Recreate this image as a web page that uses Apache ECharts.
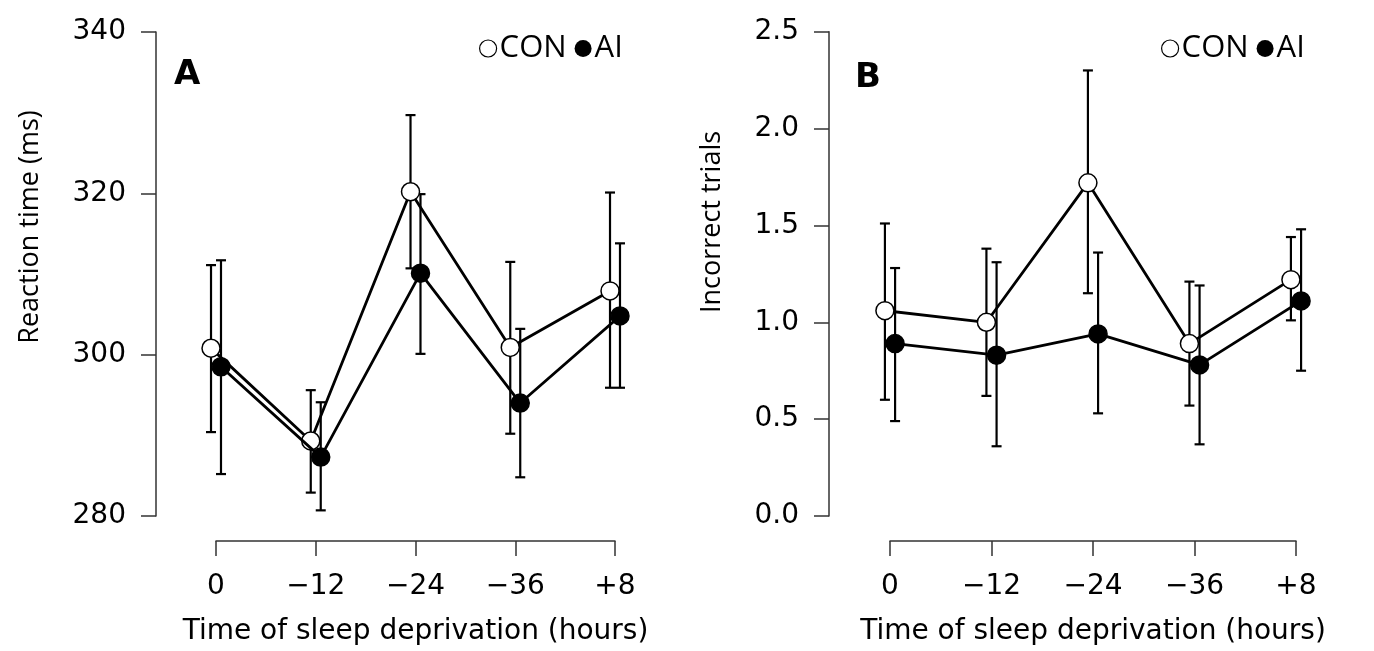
<!DOCTYPE html>
<html>
<head>
<meta charset="utf-8">
<script src="https://cdn.jsdelivr.net/npm/echarts@6/dist/echarts.min.js"></script>
<style>
  html, body { margin: 0; padding: 0; background: #fff; }
  #chart { width: 1374px; height: 651px; }
</style>
</head>
<body>
<div id="chart"></div>
<script>
// categories (hours of sleep deprivation)
const cats = ['0', '\u221212', '\u221224', '\u221236', '+8']

// panel A: reaction time (ms), mean and error bar ends
const rtCon = [300.8, 289.3, 320.2, 300.9, 307.9]
const rtConHi = [311.1, 295.6, 329.7, 311.5, 320.1]
const rtConLo = [290.4, 282.9, 310.7, 290.2, 295.9]
const rtAi = [298.5, 287.3, 310.1, 294.0, 304.8]
const rtAiHi = [311.7, 294.1, 319.9, 303.2, 313.8]
const rtAiLo = [285.2, 280.7, 300.1, 284.8, 295.9]

// panel B: incorrect trials
const errCon = [1.06, 1.00, 1.72, 0.89, 1.22]
const errConHi = [1.51, 1.38, 2.30, 1.21, 1.44]
const errConLo = [0.60, 0.62, 1.15, 0.57, 1.01]
const errAi = [0.89, 0.83, 0.94, 0.78, 1.11]
const errAiHi = [1.28, 1.31, 1.36, 1.19, 1.48]
const errAiLo = [0.49, 0.36, 0.53, 0.37, 0.75]

const font = 'DejaVu Sans'
const dx = 0.05 // small dodge so the two groups don't overlap

function pts(vals, shift) {
  return vals.map((v, i) => [i + shift, v])
}
function bars(lo, hi, shift) {
  return lo.map((v, i) => [i + shift, v, hi[i]])
}

function renderErr(params, api) {
  const x = api.value(0)
  const lo = api.coord([x, api.value(1)])
  const hi = api.coord([x, api.value(2)])
  const cap = 5
  const st = { stroke: '#000', lineWidth: 2.2 }
  return {
    type: 'group',
    children: [
      { type: 'line', shape: { x1: lo[0], y1: lo[1], x2: hi[0], y2: hi[1] }, style: st },
      { type: 'line', shape: { x1: hi[0] - cap, y1: hi[1], x2: hi[0] + cap, y2: hi[1] }, style: st },
      { type: 'line', shape: { x1: lo[0] - cap, y1: lo[1], x2: lo[0] + cap, y2: lo[1] }, style: st }
    ]
  }
}

const lineSt = { color: '#333', width: 1.5 }

function xAxis(idx) {
  return {
    type: 'value', gridIndex: idx, min: 0, max: 4, interval: 1, offset: 25,
    name: 'Time of sleep deprivation (hours)', nameLocation: 'middle', nameGap: 77,
    nameTextStyle: { fontFamily: font, fontSize: 28, color: '#000' },
    axisLine: { onZero: false, lineStyle: lineSt },
    axisTick: { length: 15, lineStyle: lineSt },
    axisLabel: { margin: 32, fontFamily: font, fontSize: 28, color: '#000', formatter: v => cats[v] },
    splitLine: { show: false }
  }
}

function yAxis(idx, min, max, interval, offset, fmt) {
  return {
    type: 'value', gridIndex: idx, min: min, max: max, interval: interval, offset: offset,
    axisLine: { show: true, onZero: false, lineStyle: lineSt },
    axisTick: { show: true, length: 15, lineStyle: lineSt },
    axisLabel: { margin: 30, fontFamily: font, fontSize: 28, color: '#000', formatter: fmt },
    splitLine: { show: false }
  }
}

function lineSeries(name, data, xi, filled) {
  return {
    name: name, type: 'line', xAxisIndex: xi, yAxisIndex: xi, data: data,
    symbol: 'circle', symbolSize: 18, z: filled ? 4 : 3, clip: false,
    lineStyle: { color: '#000', width: 2.8 },
    itemStyle: { color: filled ? '#000' : '#fff', borderColor: '#000', borderWidth: 1.5 },
    emphasis: { disabled: true }
  }
}

function errSeries(name, data, xi) {
  return {
    name: name, type: 'custom', xAxisIndex: xi, yAxisIndex: xi, z: 1, clip: false,
    renderItem: renderErr, data: data, encode: { x: 0, y: [1, 2] },
    itemStyle: { color: '#000' }
  }
}

function legend(left) {
  return {
    left: left, top: 28, icon: 'circle', itemWidth: 17, itemHeight: 17, itemGap: 8,
    selectedMode: false,
    data: [
      { name: 'CON', itemStyle: { color: '#fff', borderColor: '#000', borderWidth: 1.2 } },
      { name: 'AI', itemStyle: { color: '#000', borderColor: '#000', borderWidth: 0 } }
    ],
    textStyle: { fontFamily: 'Open Sans', fontSize: 31, color: '#000', padding: [0, 0, 0, -2] }
  }
}

const chart = echarts.init(document.getElementById('chart'))
chart.setOption({
  animation: false,
  backgroundColor: '#fff',
  grid: [
    { left: 216, top: 32, width: 399, height: 487.5 },
    { left: 890, top: 31.7, width: 406, height: 487.6 }
  ],
  legend: [legend(474), legend(1156)],
  xAxis: [xAxis(0), xAxis(1)],
  yAxis: [
    yAxis(0, 280, 340, 20, 60, v => v),
    yAxis(1, 0, 2.5, 0.5, 61, v => v.toFixed(1))
  ],
  graphic: [
    { type: 'text', x: 30, y: 227, rotation: Math.PI / 2,
      style: { text: 'Reaction time (ms)', font: '27px "Open Sans"', fill: '#000', textAlign: 'center', textVerticalAlign: 'middle' } },
    { type: 'text', x: 712, y: 222, rotation: Math.PI / 2,
      style: { text: 'Incorrect trials', font: '27px "Open Sans"', fill: '#000', textAlign: 'center', textVerticalAlign: 'middle' } },
    { type: 'text', left: 174, top: 58,
      style: { text: 'A', font: 'bold 34px "DejaVu Sans"', fill: '#000' } },
    { type: 'text', left: 855, top: 61,
      style: { text: 'B', font: 'bold 34px "DejaVu Sans"', fill: '#000' } }
  ],
  series: [
    errSeries('CON', bars(rtConLo, rtConHi, -dx), 0),
    errSeries('AI', bars(rtAiLo, rtAiHi, dx), 0),
    lineSeries('CON', pts(rtCon, -dx), 0, false),
    lineSeries('AI', pts(rtAi, dx), 0, true),
    errSeries('CON', bars(errConLo, errConHi, -dx), 1),
    errSeries('AI', bars(errAiLo, errAiHi, dx), 1),
    lineSeries('CON', pts(errCon, -dx), 1, false),
    lineSeries('AI', pts(errAi, dx), 1, true)
  ]
})
</script>
</body>
</html>
